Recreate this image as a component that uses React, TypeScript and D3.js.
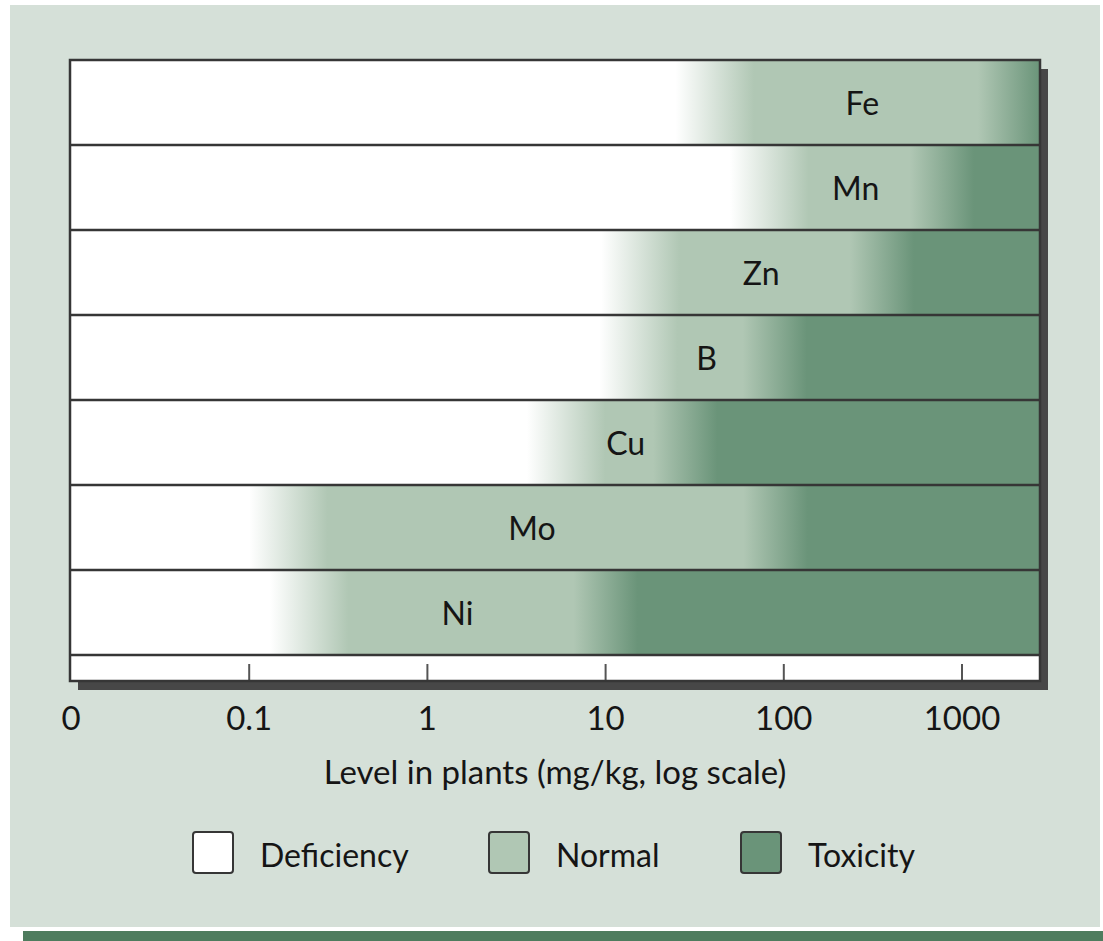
import React from "react";
import * as d3 from "d3";

// Micronutrient ranges in plant tissue (mg/kg): where the normal range begins
// (end of deficiency) and where toxicity begins.
const elements = ["Fe", "Mn", "Zn", "B", "Cu", "Mo", "Ni"];
const normalFrom = [41, 83, 15.7, 15.3, 6.0, 0.166, 0.217];
const toxicFrom = [1860, 770, 355, 89, 28, 90, 10];

const tickValues = [0.01, 0.1, 1, 10, 100, 1000];
const tickLabels = ["0", "0.1", "1", "10", "100", "1000"];

const legendLabels = ["Deficiency", "Normal", "Toxicity"];

const W = 1103;
const H = 941;
const FONT = "Lato, 'Open Sans', sans-serif";

const COLORS = {
  page: "#d5e0d8",
  deficiency: "#ffffff",
  normal: "#b0c7b4",
  toxicity: "#6a9479",
  border: "#363636",
  shadow: "#474747",
  band: "#4e7c5e",
};

export default function App() {
  const left = 70;
  const right = 1040;
  const top = 60;
  const rowsBottom = 655;
  const bottom = 681;

  const x = d3.scaleLog().domain([0.01, 1000]).range([71, 962]);
  const y = d3.scaleBand<string>().domain(elements).range([top, rowsBottom]);

  // half-widths of the soft transitions between zones, in decades
  const blurLow = 0.22;
  const blurHigh = 0.18;
  const xShift = (v: number, dec: number) => x(v * Math.pow(10, dec));
  const pct = (px: number) => `${(Math.max(0, Math.min(1, (px - left) / (right - left))) * 100).toFixed(2)}%`;

  const legendColors = [COLORS.deficiency, COLORS.normal, COLORS.toxicity];
  const legendX = [193, 489, 741];

  return (
    <svg
      width={W}
      height={H}
      style={{ position: "absolute", left: 0, top: 0, background: "#ffffff" }}
      fontFamily={FONT}
    >
      <defs>
        {elements.map((el, i) => (
          <linearGradient
            key={el}
            id={`grad-${el}`}
            gradientUnits="userSpaceOnUse"
            x1={left}
            x2={right}
            y1={0}
            y2={0}
          >
            <stop offset={pct(xShift(normalFrom[i], -blurLow))} stopColor={COLORS.deficiency} />
            <stop offset={pct(xShift(normalFrom[i], blurLow))} stopColor={COLORS.normal} />
            <stop offset={pct(xShift(toxicFrom[i], -blurHigh))} stopColor={COLORS.normal} />
            <stop offset={pct(xShift(toxicFrom[i], blurHigh))} stopColor={COLORS.toxicity} />
          </linearGradient>
        ))}
      </defs>

      {/* page panel and bottom band */}
      <rect x={10} y={5} width={1090} height={922} fill={COLORS.page} />
      <rect x={23} y={931} width={1080} height={10} fill={COLORS.band} />

      {/* drop shadow of the plot box */}
      <rect x={left + 8} y={top + 9} width={right - left} height={bottom - top} fill={COLORS.shadow} />

      {/* plot background */}
      <rect x={left} y={top} width={right - left} height={bottom - top} fill="#ffffff" />

      {/* element rows */}
      {elements.map((el) => (
        <rect
          key={el}
          x={left}
          y={y(el)}
          width={right - left}
          height={y.bandwidth()}
          fill={`url(#grad-${el})`}
        />
      ))}

      {/* row dividers */}
      {elements.map((el) => (
        <line
          key={`d-${el}`}
          x1={left}
          x2={right}
          y1={(y(el) as number) + y.bandwidth()}
          y2={(y(el) as number) + y.bandwidth()}
          stroke={COLORS.border}
          strokeWidth={2.5}
        />
      ))}

      {/* element labels, centred in the normal range */}
      {elements.map((el, i) => {
        const cx = (x(normalFrom[i]) + x(toxicFrom[i])) / 2;
        return (
          <text
            key={`l-${el}`}
            x={cx}
            y={(y(el) as number) + y.bandwidth() / 2 + 12}
            textAnchor="middle"
            fontSize={32}
            fill="#151515"
          >
            {el}
          </text>
        );
      })}

      {/* tick marks */}
      {tickValues.slice(1).map((v) => (
        <line key={`t-${v}`} x1={x(v)} x2={x(v)} y1={664} y2={bottom} stroke="#555" strokeWidth={2} />
      ))}

      {/* plot border */}
      <rect
        x={left}
        y={top}
        width={right - left}
        height={bottom - top}
        fill="none"
        stroke={COLORS.border}
        strokeWidth={2.5}
      />

      {/* tick labels */}
      {tickValues.map((v, i) => (
        <text key={`tl-${v}`} x={x(v)} y={730} textAnchor="middle" fontSize={33} fill="#151515">
          {tickLabels[i]}
        </text>
      ))}

      <text x={(left + right) / 2} y={784} textAnchor="middle" fontSize={33} fill="#151515">
        Level in plants (mg/kg, log scale)
      </text>

      {/* legend */}
      {legendLabels.map((lab, i) => (
        <g key={lab}>
          <rect
            x={legendX[i]}
            y={832}
            width={40}
            height={41}
            rx={3}
            fill={legendColors[i]}
            stroke={COLORS.border}
            strokeWidth={2}
          />
          <text x={legendX[i] + 67} y={867} fontSize={32} fill="#151515">
            {lab}
          </text>
        </g>
      ))}
    </svg>
  );
}
